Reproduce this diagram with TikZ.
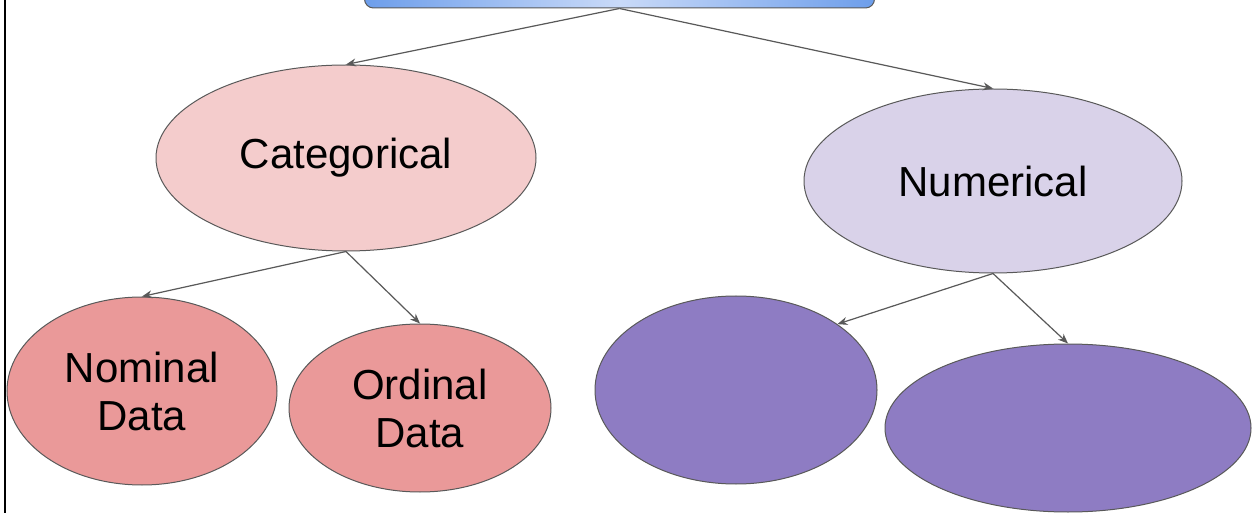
\documentclass[tikz,border=0pt]{standalone}
\usepackage{fontspec}
\setmainfont{Liberation Sans}
\usetikzlibrary{shapes.geometric,arrows.meta}
\definecolor{redA}{HTML}{F4CCCC}
\definecolor{redB}{HTML}{EA9999}
\definecolor{purA}{HTML}{D9D2E9}
\definecolor{purB}{HTML}{8E7CC3}
\definecolor{blueA}{HTML}{6D9EEB}
\definecolor{blueB}{HTML}{C9DAF8}
\definecolor{edge}{HTML}{595959}
\begin{document}
\begin{tikzpicture}
[
 x=1pt, y=1pt,
 inner sep=0pt,
 E/.style={ellipse, draw=edge, line width=1pt, align=center,
   font=\fontsize{42}{48}\selectfont},
 CatE/.style={E, fill=redA, minimum width=380, minimum height=186},
 SubC/.style={E, fill=redB},
 NumE/.style={E, fill=purA, minimum width=378, minimum height=184},
 SubN/.style={E, fill=purB},
 Top/.style={rectangle, rounded corners=9pt, draw=edge, line width=1pt,
   left color=blueA, right color=blueA, middle color=blueB,
   minimum width=510, minimum height=34},
 A/.style={draw=edge, line width=1.2pt, -{Stealth[length=10pt,width=8pt]}}
 ]
%
\useasboundingbox (0,0) rectangle (1256,512);
\fill[white] (0,0) rectangle (1256,512);
\draw[line width=2pt] (5,-2) -- (5,514);
%
\node [Top]  (T)   at ( 619.5, 521)  {};
%
\node [CatE] (C)   at ( 346, 354)  {\raisebox{-4pt}{Categorical}};
\node [NumE] (N)   at ( 993, 331)  {Numerical};
%
\node [SubC, minimum width=270, minimum height=188] (C1) at ( 142, 121) {Nominal\\Data};
\node [SubC, minimum width=262, minimum height=168] (C2) at ( 420, 104) {Ordinal\\Data};
\node [SubN, minimum width=282, minimum height=188] (N1) at ( 736, 122) {};
\node [SubN, minimum width=366, minimum height=168] (N2) at ( 1068, 84) {};
%
\draw [A] (T.south) -- (C.north);
\draw [A] (T.south) -- (N.north);
\draw [A] (C.south) -- (C1.north);
\draw [A] (C.south) -- (C2.north);
\draw [A] (N.south) -- (N1.33);
\draw [A] (N.south) -- (N2.north);
%
\end{tikzpicture}
\end{document}
